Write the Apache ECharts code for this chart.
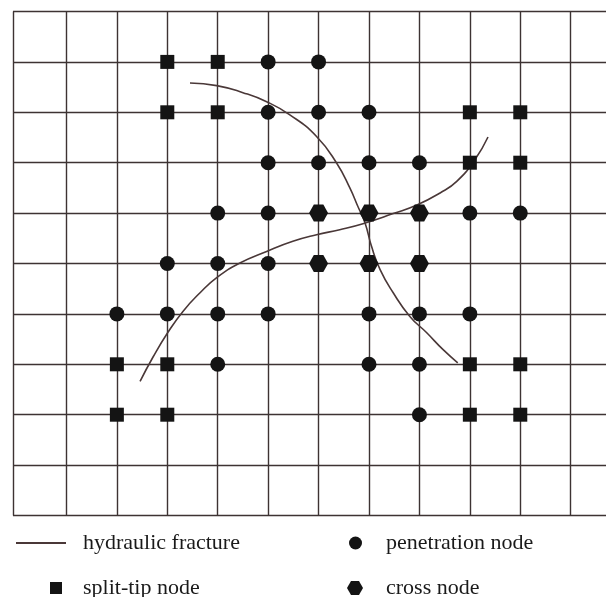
<!DOCTYPE html>
<html>
<head>
<meta charset="utf-8">
<script src="https://cdn.jsdelivr.net/npm/echarts@6/dist/echarts.min.js"></script>
<style>
  html, body { margin: 0; padding: 0; background: #ffffff; }
  #chart { width: 606px; height: 597px; }
</style>
</head>
<body>
<div id="chart"></div>
<script>
// Grid line positions (column / row indices of the mesh)
const gridColumns = [-0.06, 1, 2, 3, 4, 5, 6, 7, 8, 9, 10, 11];
const gridRows = [0, 1, 2, 3, 4, 5, 6, 7, 8, 9, 10];

// Hydraulic fracture traces [column, row]
const fracture1 = [
  [3.45, 1.42], [3.98, 1.47], [4.50, 1.61], [4.97, 1.79], [5.43, 2.05],
  [5.96, 2.48], [6.36, 3.01], [6.62, 3.50], [6.78, 3.87], [6.92, 4.19],
  [7.05, 4.66], [7.22, 5.12], [7.48, 5.58], [7.81, 6.05], [8.14, 6.37],
  [8.47, 6.71], [8.76, 6.97]
];
const fracture2 = [
  [2.46, 7.34], [2.72, 6.85], [3.01, 6.37], [3.31, 5.95], [3.65, 5.58],
  [3.98, 5.28], [4.44, 4.99], [4.97, 4.76], [5.49, 4.56], [5.96, 4.43],
  [6.42, 4.33], [6.88, 4.21], [7.48, 4.01], [7.95, 3.84], [8.41, 3.60],
  [8.74, 3.37], [9.10, 2.94], [9.36, 2.49]
];

// Node positions [column, row]
const splitTipNodes = [
  [3, 1], [4, 1], [3, 2], [4, 2], [9, 2], [10, 2], [9, 3], [10, 3],
  [2, 7], [3, 7], [9, 7], [10, 7], [2, 8], [3, 8], [9, 8], [10, 8]
];
const penetrationNodes = [
  [5, 1], [6, 1], [5, 2], [6, 2], [7, 2], [5, 3], [6, 3], [7, 3], [8, 3],
  [4, 4], [5, 4], [9, 4], [10, 4], [3, 5], [4, 5], [5, 5],
  [2, 6], [3, 6], [4, 6], [5, 6], [7, 6], [8, 6], [9, 6],
  [4, 7], [7, 7], [8, 7], [8, 8]
];
const crossNodes = [[6, 4], [7, 4], [8, 4], [6, 5], [7, 5], [8, 5]];

const legendNames = ['hydraulic fracture', 'split-tip node', 'penetration node', 'cross node'];

const hexPath = 'path://M0,8.66 L5,0 L15,0 L20,8.66 L15,17.32 L5,17.32 Z';
const gridColor = '#3d3333';
const curveColor = '#4a3838';
const nodeColor = '#141414';
const textStyle = { fontFamily: 'Liberation Serif', fontSize: 22, color: '#1a1a1a' };

const chart = echarts.init(document.getElementById('chart'), null, { renderer: 'canvas' });

function legendBox(name, icon, left, top, w, h, pad) {
  return {
    data: [{ name: name, icon: icon }],
    left: left, top: top, padding: 0,
    itemWidth: w, itemHeight: h,
    selectedMode: false,
    textStyle: Object.assign({}, textStyle, { padding: [0, 0, 0, pad] })
  };
}

chart.setOption({
  animation: false,
  backgroundColor: '#ffffff',
  grid: { left: 13, right: 0, top: 11.5, bottom: 81.5, containLabel: false },
  xAxis: {
    type: 'value', min: -0.06, max: 11.7,
    axisLine: { show: false }, axisTick: { show: false },
    axisLabel: { show: false }, splitLine: { show: false }
  },
  yAxis: {
    type: 'value', min: 0, max: 10, inverse: true,
    axisLine: { show: false }, axisTick: { show: false },
    axisLabel: { show: false }, splitLine: { show: false }
  },
  legend: [
    legendBox(legendNames[0], 'rect', 16, 532, 50, 2, 12),
    legendBox(legendNames[1], 'rect', 50, 577, 12, 12, 16),
    legendBox(legendNames[2], 'circle', 349, 532, 13, 13, 19),
    legendBox(legendNames[3], hexPath, 347, 577, 16, 15, 18)
  ],
  series: [
    {
      name: 'mesh', type: 'line', data: [], silent: true, z: 1,
      markLine: {
        silent: true, symbol: ['none', 'none'], animation: false, z: 1,
        label: { show: false },
        lineStyle: { color: gridColor, width: 1.4, type: 'solid' },
        emphasis: { disabled: true },
        data: gridColumns.map(v => ({ xAxis: v })).concat(gridRows.map(v => ({ yAxis: v })))
      }
    },
    {
      name: legendNames[0], type: 'line', data: fracture1, smooth: 0.5,
      showSymbol: false, color: curveColor,
      lineStyle: { color: curveColor, width: 1.6 }, z: 3
    },
    {
      name: legendNames[0], type: 'line', data: fracture2, smooth: 0.5,
      showSymbol: false, color: curveColor,
      lineStyle: { color: curveColor, width: 1.6 }, z: 3
    },
    {
      name: legendNames[1], type: 'scatter', data: splitTipNodes,
      symbol: 'rect', symbolSize: 14, color: nodeColor,
      itemStyle: { color: nodeColor, opacity: 1 }, z: 4
    },
    {
      name: legendNames[2], type: 'scatter', data: penetrationNodes,
      symbol: 'circle', symbolSize: 15, color: nodeColor,
      itemStyle: { color: nodeColor, opacity: 1 }, z: 4
    },
    {
      name: legendNames[3], type: 'scatter', data: crossNodes,
      symbol: hexPath, symbolSize: [19, 17], color: nodeColor,
      itemStyle: { color: nodeColor, opacity: 1 }, z: 4
    }
  ]
});
</script>
</body>
</html>
